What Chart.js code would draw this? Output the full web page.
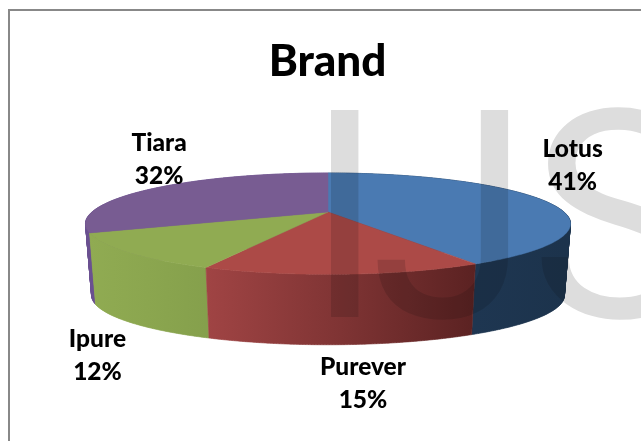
<!DOCTYPE html>
<html><head><meta charset="utf-8">
<style>html,body{margin:0;padding:0;background:#fff;overflow:hidden}#w{width:641px;height:441px}</style>
<script src="https://cdn.jsdelivr.net/npm/chart.js@4"></script></head>
<body><div id="w"><canvas id="c" width="641" height="441"></canvas></div>
<script>
const chartTitle = 'Brand';
const categories = ['Lotus','Purever','Ipure','Tiara'];
const shares = [41,15,12,32];
const topColors = ['#4a7ab2','#ac4a47','#90ab52','#785c92'];
const sideStops = [['#20405f','#1e3651','#1c334c'],['#a04444','#7f3434','#5b2222'],['#90ab52','#8ba64f','#85a04c'],['#6a5090','#6a5090','#6a5090']];
const labelShift = [[30,-34],[20,109],[-30,103],[7,-29]];
const drawOrder = [3,0,2,1];
const watermark = [['I',305],['J',370],['S',530]];

const G = {cx:328,cy:212,R:236,t:48,k:.23,twist:2.6*Math.PI/180,drop:72,shrink:.975};
function proj(angle,s,dy){
  const a0 = angle+Math.PI/2;
  const a = a0+G.twist*(1-Math.cos(a0))/2;
  const u = Math.sin(a), v = -Math.cos(a), w = 1-G.k*v;
  return [G.cx+G.R*s*u/w, G.cy+dy+G.t*s*v/w];
}
function ring(ctx,a,b){
  const n = Math.max(2,Math.ceil(Math.abs(b-a)/0.01));
  for(let i=0;i<=n;i++){
    const p = proj(a+(b-a)*i/n,1,0);
    ctx.lineTo(p[0],p[1]);
  }
}
function quadArea(p){
  let s = 0;
  p.forEach((q,i)=>{const r = p[(i+1)%4]; s += q[0]*r[1]-r[0]*q[1];});
  return s;
}
const pie3d = {
  id:'pie3d',
  beforeDatasetsDraw(chart){
    const ctx = chart.ctx, arcs = chart.getDatasetMeta(0).data;
    ctx.save();
    drawOrder.forEach(i=>{
      const {startAngle:a,endAngle:b} = arcs[i];
      const x0 = proj(a,1,0)[0], x1 = proj(b,1,0)[0];
      const lo = i===3?84:Math.min(x0,x1), hi = i===3?92:Math.max(x0,x1);
      const g = ctx.createLinearGradient(i===0?hi-90:lo,0,i===0?hi+90:hi,0);
      const st = sideStops[i];
      st.forEach((c,j)=>g.addColorStop(j/(st.length-1),c));
      ctx.fillStyle = g; ctx.strokeStyle = g; ctx.lineWidth = .6;
      const n = Math.ceil((b-a)/0.01);
      ctx.beginPath();
      for(let j=0;j<n;j++){
        const s = a+(b-a)*j/n, e = a+(b-a)*(j+1)/n;
        const p = [proj(s,1,0),proj(e,1,0),proj(e,G.shrink,G.drop),proj(s,G.shrink,G.drop)];
        if(quadArea(p)<0)p.reverse();
        p.forEach((q,m)=>m?ctx.lineTo(q[0],q[1]):ctx.moveTo(q[0],q[1]));
        ctx.closePath();
      }
      ctx.fill(); ctx.stroke();
    });
    arcs.forEach((arc,i)=>{
      ctx.fillStyle = topColors[i]; ctx.strokeStyle = topColors[i]; ctx.lineWidth = .5;
      ctx.beginPath();
      ctx.moveTo(G.cx,G.cy);
      ring(ctx,arc.startAngle,arc.endAngle);
      ctx.closePath(); ctx.fill(); ctx.stroke();
    });
    ctx.restore();
    return false;
  },
  afterDraw(chart){
    const ctx = chart.ctx, arcs = chart.getDatasetMeta(0).data;
    ctx.save();
    ctx.fillStyle = '#000';
    ctx.font = '900 24.5px Lato';
    ctx.textAlign = 'center'; ctx.textBaseline = 'middle';
    arcs.forEach((arc,i)=>{
      const p = proj((arc.startAngle+arc.endAngle)/2,1,0);
      const x = p[0]+labelShift[i][0], y = p[1]+labelShift[i][1];
      ctx.fillText(categories[i],x,y-16.5);
      ctx.fillText(shares[i]+'%',x,y+16.5);
    });
    ctx.strokeStyle = '#888888'; ctx.lineWidth = 2;
    ctx.beginPath(); ctx.moveTo(9,445); ctx.lineTo(9,10); ctx.lineTo(645,10); ctx.stroke();
    ctx.globalCompositeOperation = 'multiply';
    ctx.fillStyle = '#dddddd';
    ctx.font = '400 291px Roboto';
    ctx.textAlign = 'left'; ctx.textBaseline = 'alphabetic';
    watermark.forEach(([s,x])=>ctx.fillText(s,x,317));
    ctx.restore();
  }
};
new Chart(document.getElementById('c'),{
  type:'pie',
  data:{labels:categories,datasets:[{data:shares,backgroundColor:topColors,borderWidth:0}]},
  options:{
    responsive:false,animation:false,
    layout:{padding:{left:14,top:35}},
    plugins:{
      legend:{display:false},tooltip:{enabled:false},
      title:{display:true,text:chartTitle,color:'#000',font:{family:'Lato',size:44,weight:'900'},padding:{top:0,bottom:10}}
    }
  },
  plugins:[pie3d]
});
</script></body></html>
